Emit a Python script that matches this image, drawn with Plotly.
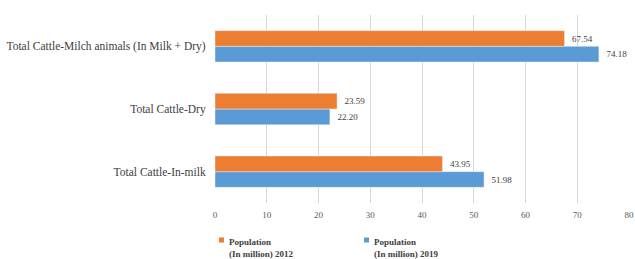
import plotly.graph_objects as go

categories = ["Total Cattle-In-milk", "Total Cattle-Dry", "Total Cattle-Milch animals (In Milk + Dry)"]
pop_2012 = [43.95, 23.59, 67.54]
pop_2019 = [51.98, 22.20, 74.18]
x_ticks = [0, 10, 20, 30, 40, 50, 60, 70, 80]
series_names = ["Population<br>(In million) 2012", "Population<br>(In million) 2019"]
series_colors = ["#ED7D31", "#5B9BD5"]

font_family = "Liberation Serif, Times New Roman, serif"
NB = "\u00a0\u00a0"

fig = go.Figure()
fig.add_trace(go.Bar(
    y=categories, x=pop_2019, orientation="h",
    name=series_names[1], showlegend=False,
    marker_color=series_colors[1],
    text=[NB + f"{v:.2f}" for v in pop_2019], textposition="outside",
    textfont=dict(size=9, color="#404040", family=font_family),
    cliponaxis=False,
))
fig.add_trace(go.Bar(
    y=categories, x=pop_2012, orientation="h",
    name=series_names[0], showlegend=False,
    marker_color=series_colors[0],
    text=[NB + f"{v:.2f}" for v in pop_2012], textposition="outside",
    textfont=dict(size=9, color="#404040", family=font_family),
    cliponaxis=False,
))

# Custom legend (square swatch + two-line bold label) below the plot
L, R = 215, 6
legend_x_px = [219, 364]
pw = 635 - L - R
for name, color, lx in zip(series_names, series_colors, legend_x_px):
    x0 = (lx - L) / pw
    x1 = (lx + 5 - L) / pw
    fig.add_shape(type="rect", xref="paper", yref="paper",
                  x0=x0, x1=x1, y0=-37 / 188 - 2.5 / 188, y1=-37 / 188 + 2.5 / 188,
                  fillcolor=color, line_width=0)
    fig.add_annotation(xref="paper", yref="paper",
                       x=(lx + 8 - L) / pw, y=-32 / 188,
                       xanchor="left", yanchor="top", align="left",
                       text="<b>" + name + "</b>", showarrow=False,
                       font=dict(size=9, color="#404040", family=font_family))

fig.update_layout(
    width=635, height=259,
    margin=dict(l=L, r=R, t=15, b=56, autoexpand=False),
    paper_bgcolor="white", plot_bgcolor="white",
    barmode="group", bargap=0.5, bargroupgap=0,
    font=dict(family=font_family, size=9, color="#404040"),
    showlegend=False,
    xaxis=dict(
        range=[0, 80], tickvals=x_ticks,
        showgrid=True, gridcolor="#D9D9D9", gridwidth=1,
        zeroline=False, showline=False,
        tickfont=dict(size=9, color="#595959"),
        ticks="outside", ticklen=3, tickcolor="rgba(0,0,0,0)",
        automargin=False,
    ),
    yaxis=dict(
        showgrid=False, showline=False, zeroline=False,
        tickfont=dict(size=11.5, color="#404040"),
        ticks="outside", ticklen=6, tickcolor="rgba(0,0,0,0)",
        automargin=False,
    ),
)

fig.write_html("out.html", config={"displayModeBar": False},
               post_script="document.body.style.margin='0';")
